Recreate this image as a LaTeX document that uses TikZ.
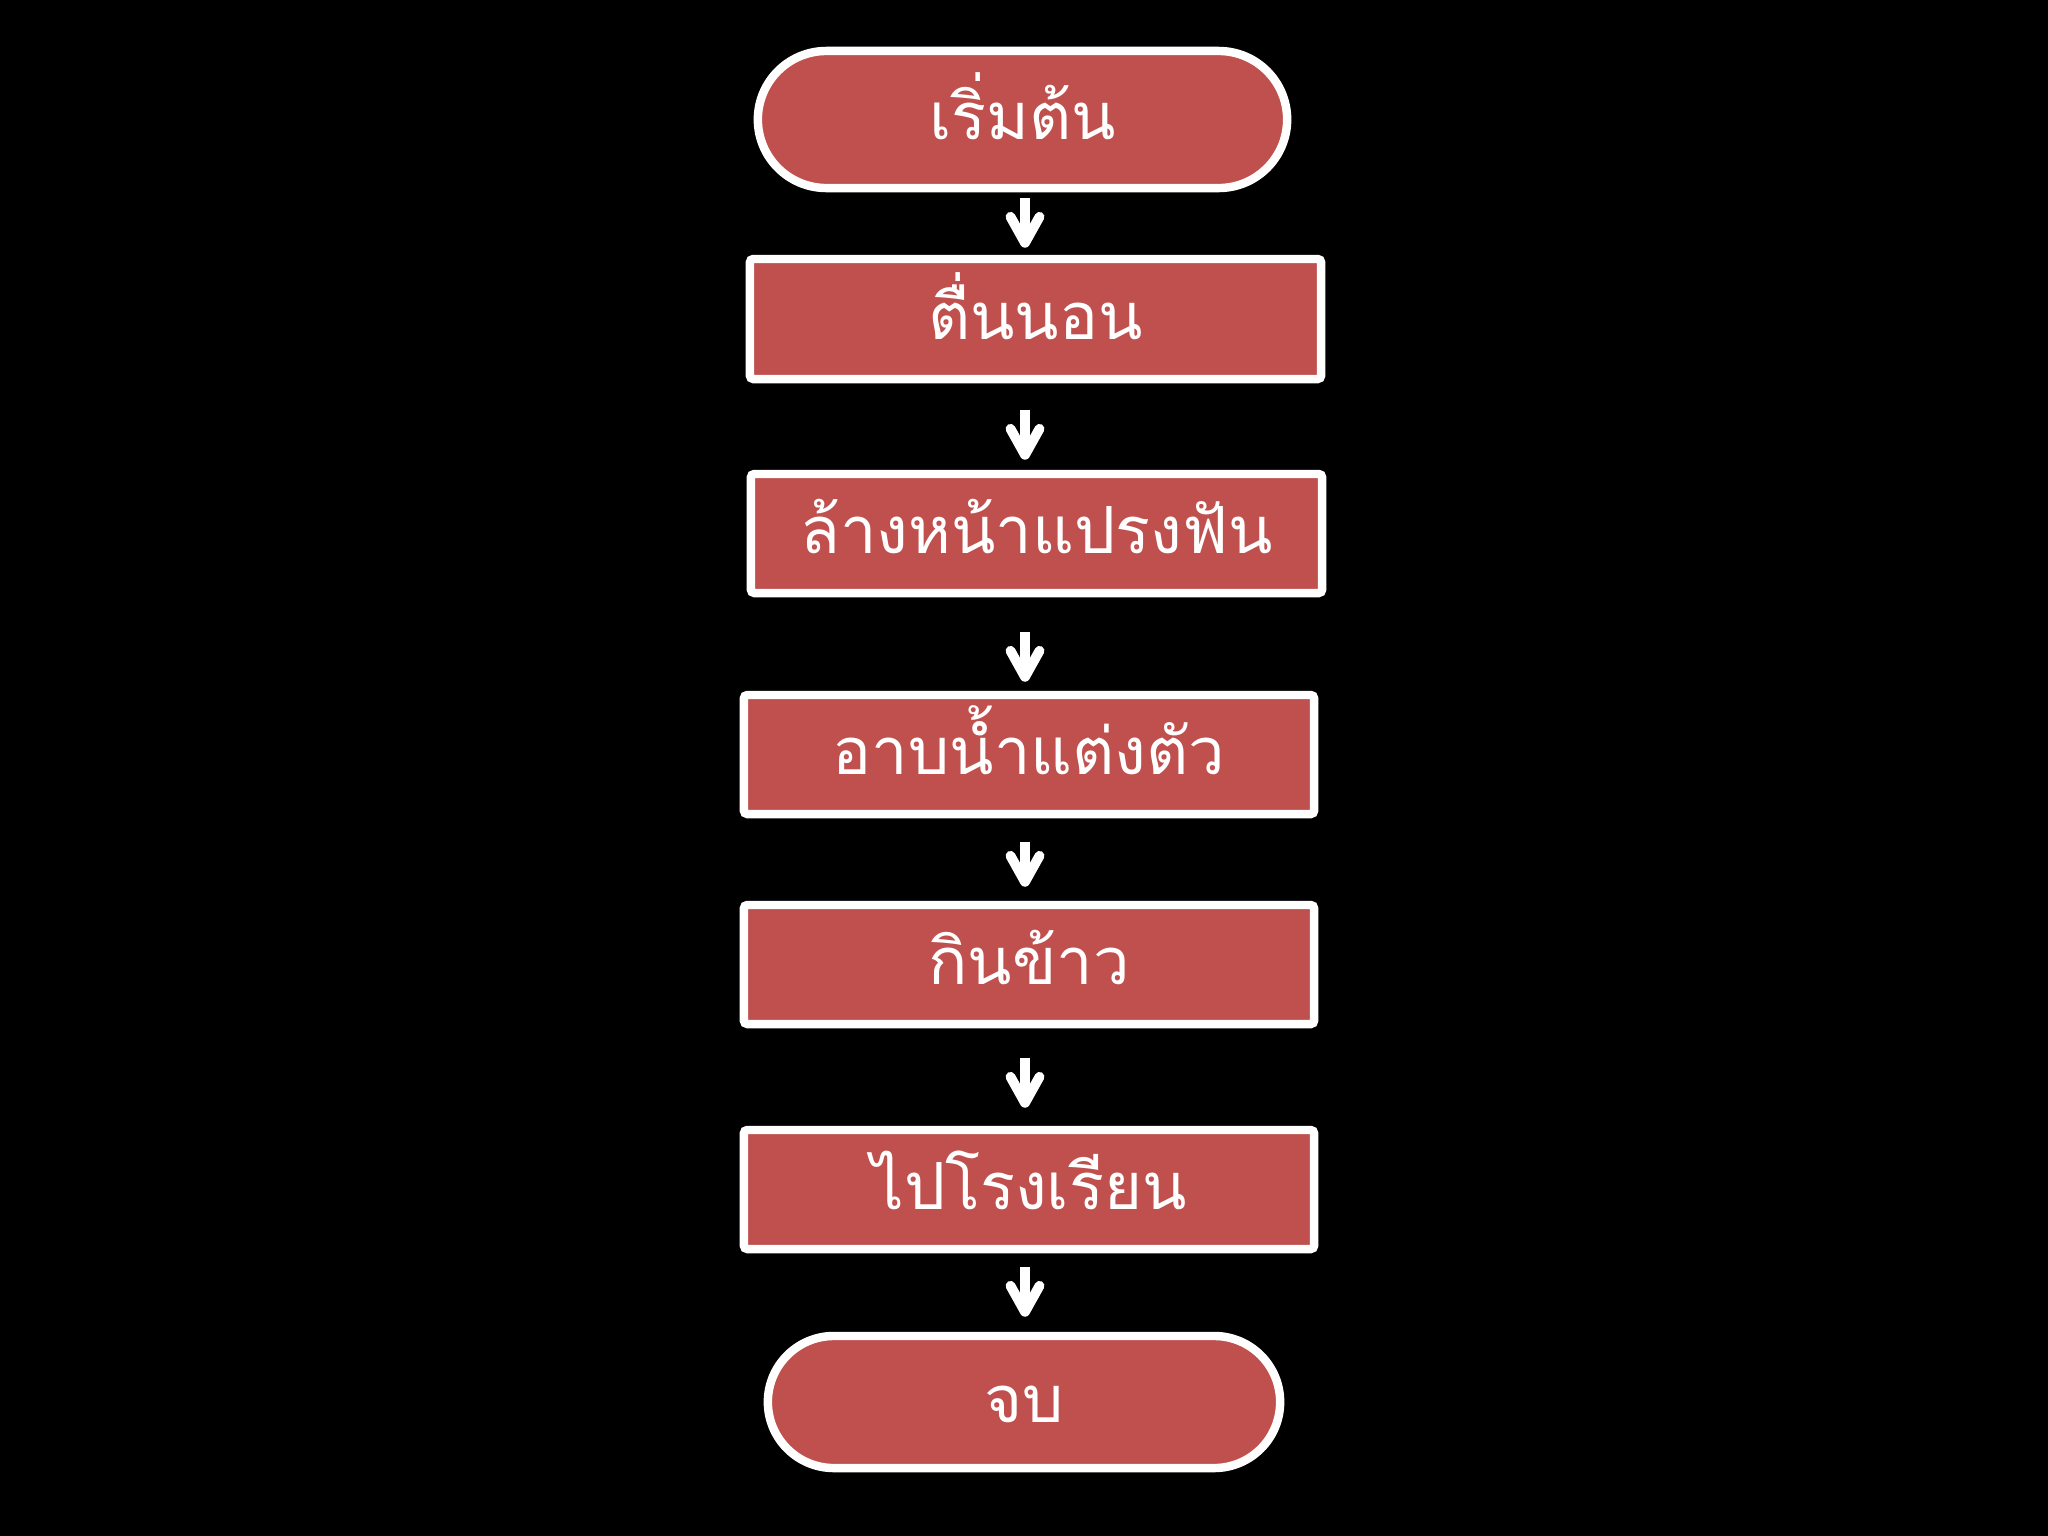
\documentclass[tikz,border=0pt]{standalone}
\usepackage{fontspec}
\newfontfamily\thaifont[Script=Thai]{Loma}
\usetikzlibrary{arrows.meta,shapes.misc}
\definecolor{boxred}{HTML}{C0504D}

\begin{document}
\begin{tikzpicture}[x=0.01cm, y=-0.01cm,
every node/.style={draw=white, line width=2.4pt, fill=boxred, text=white,
    inner sep=0pt, text height=11.4pt, text depth=0pt,
    font=\thaifont\fontsize{18.5}{22}\selectfont},
stepbox/.style={rectangle, rounded corners=1pt, minimum height=1.19cm},
termbox/.style={rounded rectangle, minimum height=1.37cm},
arr/.style={white, line width=2.8pt, -{Straight Barb[round, length=2.6mm, width=2.9mm]}}
]
\fill[black] (0,0) rectangle (2048,1536);
\useasboundingbox (0,0) rectangle (2048,1536);

\node[termbox, minimum width=5.29cm] (start) at (1022.5,119.5) {เริ่มต้น};
\node[stepbox, minimum width=5.71cm, minimum height=1.20cm] (wake) at (1035.5,319) {ตื่นนอน};
\node[stepbox, minimum width=5.71cm] (wash) at (1036.5,533.5) {ล้างหน้าแปรงฟัน};
\node[stepbox, minimum width=5.70cm] (bath) at (1029,754.5) {อาบน้ำแต่งตัว};
\node[stepbox, minimum width=5.70cm] (eat) at (1029,964.5) {กินข้าว};
\node[stepbox, minimum width=5.70cm] (school) at (1029,1189.5) {ไปโรงเรียน};
\node[termbox, minimum width=5.12cm, minimum height=1.32cm] (stop) at (1024,1402) {จบ};

\foreach \a/\b/\s/\e in {start/wake/6/7, wake/wash/27/10,%
                         wash/bath/35/9, bath/eat/24/14,%
                         eat/school/30/18, school/stop/14/15%
            }
    \draw [arr, shorten <=\s*0.2845pt, shorten >=\e*0.2845pt] (\a.south -| 1025,0) -- (\b.north -| 1025,0);

%\draw[help lines] (0,0) grid (2048,1536);
\end{tikzpicture}
\end{document}
